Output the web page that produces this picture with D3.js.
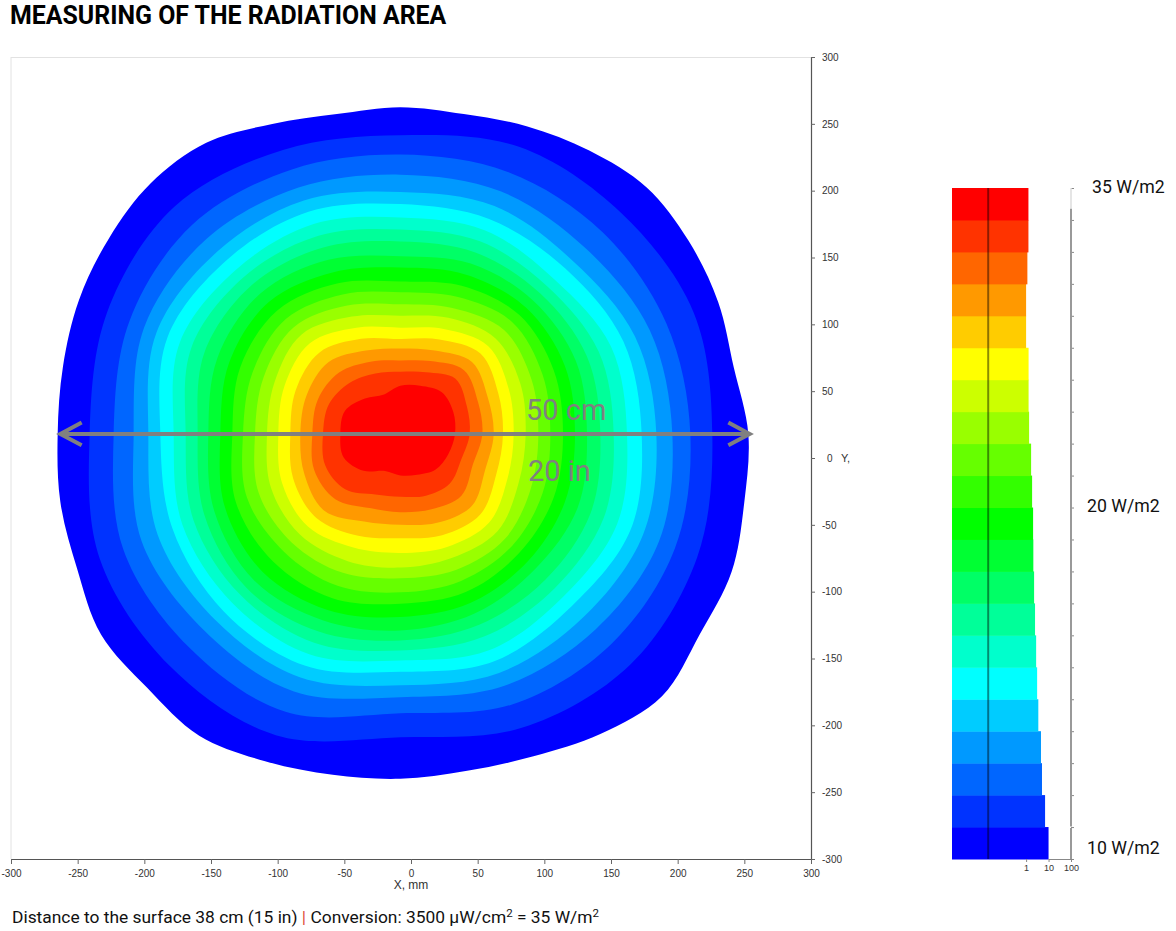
<!DOCTYPE html>
<html>
<head>
<meta charset="utf-8">
<script src="https://cdn.jsdelivr.net/npm/d3@7/dist/d3.min.js"></script>
<style>
  body { margin: 0; background: #fff; }
  svg { display: block; }
  .tick text { font-family: "Liberation Sans", Arial, sans-serif; font-size: 10px; fill: #333; }
</style>
</head>
<body>
<div id="chart"></div>
<script>
var svgWidth = 1176;
var svgHeight = 931;

// one colour per irradiance level, outer (weakest) first
var levelColors = ["#0000ff", "#0033ff", "#0066ff", "#0099ff", "#00ccff", "#00ffff", "#00ffcc",
  "#00ff99", "#00ff66", "#00ff33", "#00ff00", "#33ff00", "#66ff00", "#99ff00", "#ccff00",
  "#ffff00", "#ffcc00", "#ff9900", "#ff6600", "#ff3300", "#ff0000"];

// measuring centre of the radial readings, mm
var centerX = -8;
var centerY = 18;

// contour radius in mm, read counter-clockwise starting from +X, evenly spaced
var contourRadii = [
  [261, 255, 258, 260, 261, 255, 249, 244, 244.5, 244, 251, 262, 265, 263, 261, 258, 257, 260, 262.5, 270, 268.5, 271.5, 265, 260, 258, 257, 261, 270, 277.5, 270, 269, 263],
  [234, 238, 234, 232.5, 223.5, 230, 240, 238, 233, 244, 245, 244, 227, 238, 244, 241],
  [217.5, 216, 214, 212, 209, 214, 221, 220, 215, 225, 225, 225, 209, 219, 223, 223],
  [204, 202.5, 196.5, 196.5, 194, 199.5, 206, 208, 200, 210, 208, 208.5, 197, 204, 207, 210],
  [192, 190.5, 183, 184.5, 181, 189, 193.5, 198, 189, 197, 196.5, 197, 188, 193.5, 194, 197],
  [181, 181, 175, 174, 172, 180, 184, 189, 180, 185, 187.5, 187.5, 178, 184, 182, 187],
  [170, 171, 163.5, 165, 162, 170, 174, 179, 170, 177, 178.5, 178.5, 169.5, 175, 172.5, 176],
  [160, 161, 156, 156, 153, 160.5, 166, 169.5, 161, 168, 170, 169, 162, 164, 163.5, 165],
  [150, 151.5, 148.5, 147, 144, 151, 157.5, 159, 152, 159, 163, 160, 154.5, 154.5, 154, 154.5],
  [140, 142.5, 141, 138, 133, 141, 148.5, 148.5, 144, 151, 155, 151, 147, 145.5, 143, 144],
  [131, 133.5, 133.5, 129, 124.5, 131, 139.5, 139, 135, 142.5, 146, 142.5, 137, 137, 135, 133.5],
  [122, 124.5, 126, 120, 114, 122, 130.5, 130, 126, 133.5, 135, 133, 127, 128, 126, 124.5],
  [112.5, 115.5, 118.5, 111, 106, 113, 121.5, 120, 118, 124.5, 124, 123, 118.5, 119, 118.5, 115.5],
  [103.5, 106.5, 110, 102, 97, 104, 113, 111, 109, 115, 115, 112.5, 108, 110, 111, 106],
  [94, 97.5, 101, 94, 88.5, 95, 105, 102, 100, 105, 106.5, 103, 100, 100.5, 103, 96],
  [85, 88, 93, 85, 79.5, 86, 96, 94, 91.5, 96, 98, 92, 89, 91.5, 94, 87],
  [77, 79.5, 85, 76.5, 71, 77, 86, 85, 82.5, 87, 89, 82.5, 78, 82, 85, 78],
  [70, 71, 76, 67.5, 64, 67.5, 76, 76, 75, 78, 81, 71, 68, 72, 76, 69],
  [61.5, 63, 67.5, 59, 55, 58.5, 65, 67, 66, 70, 69, 60, 58.5, 61, 65, 59],
  [52, 54, 58.5, 50, 46.5, 49, 54, 58, 58, 61, 58.5, 49, 47, 50, 52.5, 49.5],
  [41, 43, 44, 39, 36, 32, 37.5, 45, 45, 46, 39, 30, 31, 33, 37.5, 39]
];

// legend bars, same order as the colours (bottom to top of the legend)
var legendValues = [10, 7, 5.1, 4.6, 3.5, 3.1, 2.8, 2.5, 2.27, 2.1, 2.05, 1.85, 1.67, 1.36, 1.29, 1.29, 1, 1, 1.14, 1.27, 1.27];
var legendMarker = 0.0205;

var axisTicks = [-300, -250, -200, -150, -100, -50, 0, 50, 100, 150, 200, 250, 300];
var legendTicks = [1, 10, 100];
var legendLabels = [["35 W/m2", 20.85], ["20 W/m2", 10.86], ["10 W/m2", 0.16]];

// arrow ends in mm
var arrowEnds = [-263, 254];
var arrowY = 18;

var svg = d3.select("#chart")
  .append("svg")
  .attr("width", svgWidth)
  .attr("height", svgHeight);

var xScale = d3.scaleLinear().domain([-300, 300]).range([11, 811]);
var yScale = d3.scaleLinear().domain([-300, 300]).range([859, 57]);

// frame, top and left are only faint
svg.append("line").attr("x1", 11).attr("x2", 811).attr("y1", 57.5).attr("y2", 57.5).attr("stroke", "#e2e2e2");
svg.append("line").attr("x1", 11).attr("x2", 11).attr("y1", 57).attr("y2", 859).attr("stroke", "#e2e2e2");

// contour bands, largest first so the next one paints over it
var contourLine = d3.line()
  .x(d => xScale(centerX + d.r * Math.cos(d.a)))
  .y(d => yScale(centerY + d.r * Math.sin(d.a)))
  .curve(d3.curveCatmullRomClosed.alpha(0.5));

svg.append("g").selectAll("path")
  .data(contourRadii)
  .enter()
  .append("path")
  .attr("fill", (d, i) => levelColors[i])
  .attr("d", radii => contourLine(radii.map((r, i) => ({ r: r, a: i / radii.length * 2 * Math.PI }))));

// axes, plain hyphen on the negative labels like the instrument software
var bottomAxis = d3.axisBottom(xScale).tickValues(axisTicks).tickFormat(d => String(d)).tickSize(5).tickSizeOuter(0).tickPadding(6);
var rightAxis = d3.axisRight(yScale).tickValues(axisTicks).tickFormat(d => String(d)).tickSize(4).tickSizeOuter(0).tickPadding(7);

var xAxisGroup = svg.append("g").attr("transform", "translate(0,859)").call(bottomAxis);
var yAxisGroup = svg.append("g").attr("transform", "translate(811,0)").call(rightAxis);
[xAxisGroup, yAxisGroup].forEach(g => {
  g.selectAll(".domain").attr("stroke", "#555").attr("stroke-width", 1.2);
  g.selectAll(".tick line").attr("stroke", "#666");
});
yAxisGroup.selectAll(".tick text").filter(d => d == 0).attr("dx", 5);

svg.append("text")
  .attr("x", xScale(0)).attr("y", 889)
  .attr("text-anchor", "middle")
  .attr("font-family", "Liberation Sans, Arial, sans-serif")
  .attr("font-size", 12).attr("fill", "#333")
  .text("X, mm");
svg.append("text")
  .attr("x", 841).attr("y", yScale(0) + 4)
  .attr("font-family", "Liberation Sans, Arial, sans-serif")
  .attr("font-size", 11).attr("fill", "#333")
  .text("Y,");

// double arrow across the spot
var arrowGroup = svg.append("g").attr("fill", "none").attr("stroke", "#808080").attr("stroke-width", 4);
arrowGroup.append("line")
  .attr("x1", xScale(arrowEnds[0])).attr("x2", xScale(arrowEnds[1]))
  .attr("y1", yScale(arrowY)).attr("y2", yScale(arrowY));
arrowGroup.selectAll("path")
  .data(arrowEnds)
  .enter()
  .append("path")
  .attr("d", d => {
    var dir = d < 0 ? 1 : -1;
    return d3.line()([
      [xScale(d + dir * 16), yScale(arrowY + 8.5)],
      [xScale(d), yScale(arrowY)],
      [xScale(d + dir * 16), yScale(arrowY - 8.5)]
    ]);
  });

svg.append("text").attr("x", 526).attr("y", 420)
  .attr("font-family", "Roboto, sans-serif").attr("font-size", 29).attr("fill", "#808080").text("50 cm");
svg.append("text").attr("x", 528).attr("y", 481)
  .attr("font-family", "Roboto, sans-serif").attr("font-size", 29).attr("fill", "#808080").text("20 in");

// legend on the right
var legendX = d3.scaleLog().domain([0.0005, 100]).range([952, 1071]);
var legendY = d3.scaleLinear().domain([0, 21]).range([859, 188]);

svg.append("g").selectAll("rect")
  .data(legendValues)
  .enter()
  .append("rect")
  .attr("x", legendX(0.0005))
  .attr("y", (d, i) => legendY(i + 1))
  .attr("width", d => legendX(d) - legendX(0.0005))
  .attr("height", legendY(0) - legendY(1) + 0.5)
  .attr("fill", (d, i) => levelColors[i]);

svg.append("line")
  .attr("x1", legendX(legendMarker)).attr("x2", legendX(legendMarker))
  .attr("y1", legendY(21)).attr("y2", legendY(0))
  .attr("stroke", "#000").attr("stroke-opacity", 0.45).attr("stroke-width", 2);

var legendBottom = d3.axisBottom(legendX).tickValues(legendTicks).tickFormat(d3.format("d")).tickSize(3).tickSizeOuter(0).tickPadding(3);
var legendBottomGroup = svg.append("g").attr("transform", "translate(0,859)").call(legendBottom);
legendBottomGroup.select(".domain").attr("stroke", "#888").attr("d", `M${legendX(10)},0.5H${legendX(100)}`);
legendBottomGroup.selectAll(".tick line").attr("stroke", "#888");
legendBottomGroup.selectAll(".tick text").style("font-size", "9px").attr("fill", "#555");

var legendRight = d3.axisRight(legendY).tickValues(d3.range(0, 22)).tickSize(3).tickSizeOuter(0).tickFormat("");
var legendRightGroup = svg.append("g").attr("transform", "translate(1071,0)").call(legendRight);
legendRightGroup.select(".domain").remove();
legendRightGroup.selectAll(".tick line").attr("stroke", "#888");
legendRightGroup.append("line").attr("y1", legendY(21)).attr("y2", legendY(20.35)).attr("stroke", "#ddd").attr("stroke-width", 1.5);
legendRightGroup.append("line").attr("y1", legendY(20.35)).attr("y2", legendY(1.02)).attr("stroke", "#999").attr("stroke-width", 2);
legendRightGroup.append("line").attr("y1", legendY(0.97)).attr("y2", legendY(0)).attr("stroke", "#999").attr("stroke-width", 2);

svg.append("g").selectAll("text")
  .data(legendLabels)
  .enter()
  .append("text")
  .attr("x", (d, i) => i == 0 ? 1092 : 1087)
  .attr("y", d => legendY(d[1]))
  .attr("font-family", "Roboto, sans-serif").attr("font-size", 17.7).attr("fill", "#111")
  .text(d => d[0]);

// title and footer
svg.append("text").attr("x", 10).attr("y", 23.5)
  .attr("font-family", "Roboto, sans-serif").attr("font-weight", 700).attr("font-size", 24.9).attr("fill", "#000")
  .text("MEASURING OF THE RADIATION AREA");

var footer = svg.append("text").attr("x", 12).attr("y", 923)
  .attr("font-family", "Roboto, sans-serif").attr("font-size", 17.4).attr("fill", "#111");
footer.append("tspan").text("Distance to the surface 38 cm (15 in) ");
footer.append("tspan").attr("fill", "#e0503c").text("|");
footer.append("tspan").text(" Conversion: 3500 µW/cm");
footer.append("tspan").attr("font-size", 11.5).attr("dy", -6).text("2");
footer.append("tspan").attr("dy", 6).text(" = 35 W/m");
footer.append("tspan").attr("font-size", 11.5).attr("dy", -6).text("2");
</script>
</body>
</html>
